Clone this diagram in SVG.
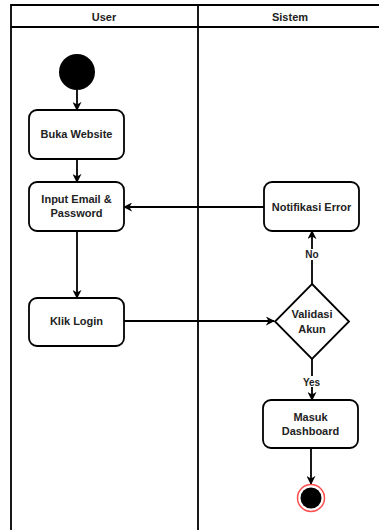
<svg xmlns="http://www.w3.org/2000/svg" width="379" height="530" viewBox="0 0 379 530">
  <defs>
    <marker id="arrow" viewBox="0 0 10 10" refX="9" refY="5" markerWidth="9" markerHeight="9" markerUnits="userSpaceOnUse" orient="auto">
      <path d="M0,0 L10,5 L0,10 L3,5 Z" fill="#000"/>
    </marker>
  </defs>
  <style>
    .lane { fill: none; stroke: #000; stroke-width: 1.8; }
    .box { fill: #fff; stroke: #000; stroke-width: 1.8; }
    .label { font-family: "Liberation Sans", Arial, sans-serif; font-weight: bold; font-size: 11px; fill: #222; text-anchor: middle; }
    .edge { fill: none; stroke: #000; stroke-width: 1.8; marker-end: url(#arrow); }
    .edge-label { font-family: "Liberation Sans", Arial, sans-serif; font-weight: bold; font-size: 10px; fill: #222; text-anchor: middle; }
  </style>
  <rect width="379" height="530" fill="#fff"/>

  <!-- swimlanes -->
  <g id="lanes">
    <path class="lane" d="M11,530 V5 H379 M11,27 H379 M198,5 V530"/>
    <text class="label" x="104" y="20.5">User</text>
    <text class="label" x="290" y="20.5">Sistem</text>
  </g>

  <!-- connectors -->
  <g id="connectors">
    <path class="edge" d="M77,90 V110"/>
    <path class="edge" d="M77,159 V182"/>
    <path class="edge" d="M264,207 H124"/>
    <path class="edge" d="M77,231 V298"/>
    <path class="edge" d="M124,321 H274"/>
    <path class="edge" d="M312,284 V231"/>
    <path class="edge" d="M312,359 V400"/>
    <path class="edge" d="M311,448 V484"/>
    <rect x="303" y="249" width="18" height="11" fill="#fff"/>
    <text class="edge-label" x="312" y="258">No</text>
    <rect x="301" y="376" width="21" height="11" fill="#fff"/>
    <text class="edge-label" x="311.5" y="386">Yes</text>
  </g>

  <g id="start">
    <circle cx="77" cy="72" r="18" fill="#000"/>
  </g>

  <g id="buka-website">
    <rect class="box" x="29" y="110" width="95" height="49" rx="8"/>
    <text class="label" x="76.5" y="138">Buka Website</text>
  </g>

  <g id="input-email">
    <rect class="box" x="29" y="182" width="95" height="49" rx="8"/>
    <text class="label" x="76.5" y="203">Input Email &amp;</text>
    <text class="label" x="76.5" y="217">Password</text>
  </g>

  <g id="notifikasi-error">
    <rect class="box" x="264" y="182" width="95" height="49" rx="8"/>
    <text class="label" x="311.5" y="210.5">Notifikasi Error</text>
  </g>

  <g id="klik-login">
    <rect class="box" x="29" y="298" width="95" height="48" rx="8"/>
    <text class="label" x="76.5" y="325">Klik Login</text>
  </g>

  <g id="validasi-akun">
    <path class="box" d="M312,284 L349,321.5 L312,359 L275,321.5 Z"/>
    <text class="label" x="312" y="318">Validasi</text>
    <text class="label" x="312" y="333">Akun</text>
  </g>

  <g id="masuk-dashboard">
    <rect class="box" x="263" y="400" width="95" height="48" rx="8"/>
    <text class="label" x="310.5" y="421">Masuk</text>
    <text class="label" x="310.5" y="435">Dashboard</text>
  </g>

  <g id="end">
    <circle cx="311" cy="498" r="13.5" fill="#fff" stroke="#ff4d4d" stroke-width="1.5"/>
    <circle cx="311" cy="498" r="10.5" fill="#000"/>
  </g>
</svg>
